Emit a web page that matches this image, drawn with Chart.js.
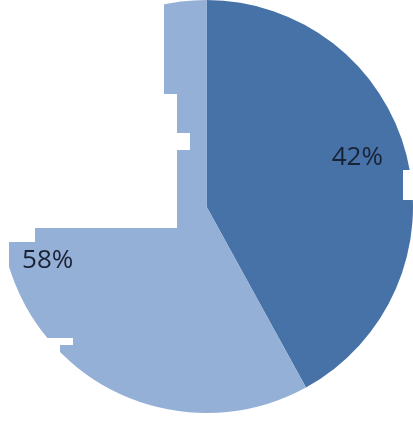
<!DOCTYPE html>
<html>
<head>
<meta charset="utf-8">
<script src="https://cdn.jsdelivr.net/npm/chart.js@4"></script>
<style>
  body { margin: 0; background: #fff; }
  #wrap { width: 413px; height: 413px; }
</style>
</head>
<body>
<div id="wrap"><canvas id="pie" width="413" height="413"></canvas></div>
<script>
const shares = [42, 58];
const sliceLabels = ['42%', '58%'];
const sliceColors = ['#4672a7', '#95b0d6'];

// white patches that cover parts of the pie in the reference
const masks = [
  [0, 0, 164, 94],
  [0, 94, 177, 134],
  [177, 133, 13, 17],
  [0, 228, 35, 14],
  [0, 242, 9, 26],
  [0, 338, 73, 7],
  [0, 345, 60, 12],
  [403, 170, 10, 30]
];

const maskPlugin = {
  id: 'masks',
  afterDatasetsDraw(chart) {
    const ctx = chart.ctx;
    ctx.save();
    ctx.fillStyle = '#ffffff';
    masks.forEach(m => ctx.fillRect(m[0], m[1], m[2], m[3]));
    ctx.restore();
  }
};

const labelPlugin = {
  id: 'sliceLabels',
  afterDraw(chart) {
    const ctx = chart.ctx;
    const meta = chart.getDatasetMeta(0);
    ctx.save();
    ctx.font = '26px "Open Sans", sans-serif';
    ctx.fillStyle = '#1a2236';
    ctx.textAlign = 'center';
    ctx.textBaseline = 'middle';
    meta.data.forEach((arc, i) => {
      const mid = (arc.startAngle + arc.endAngle) / 2 - 4 * Math.PI / 180;
      const r = arc.outerRadius * 0.79;
      // small nudge so the text sits like the original
      ctx.fillText(sliceLabels[i], arc.x + Math.cos(mid) * r - 4, arc.y + Math.sin(mid) * r + 3);
    });
    ctx.restore();
  }
};

new Chart(document.getElementById('pie').getContext('2d'), {
  type: 'pie',
  data: {
    labels: sliceLabels,
    datasets: [{
      data: shares,
      backgroundColor: sliceColors,
      borderWidth: 0
    }]
  },
  options: {
    responsive: false,
    animation: false,
    layout: { padding: 0 },
    plugins: {
      legend: { display: false },
      tooltip: { enabled: false }
    }
  },
  plugins: [maskPlugin, labelPlugin]
});
</script>
</body>
</html>
